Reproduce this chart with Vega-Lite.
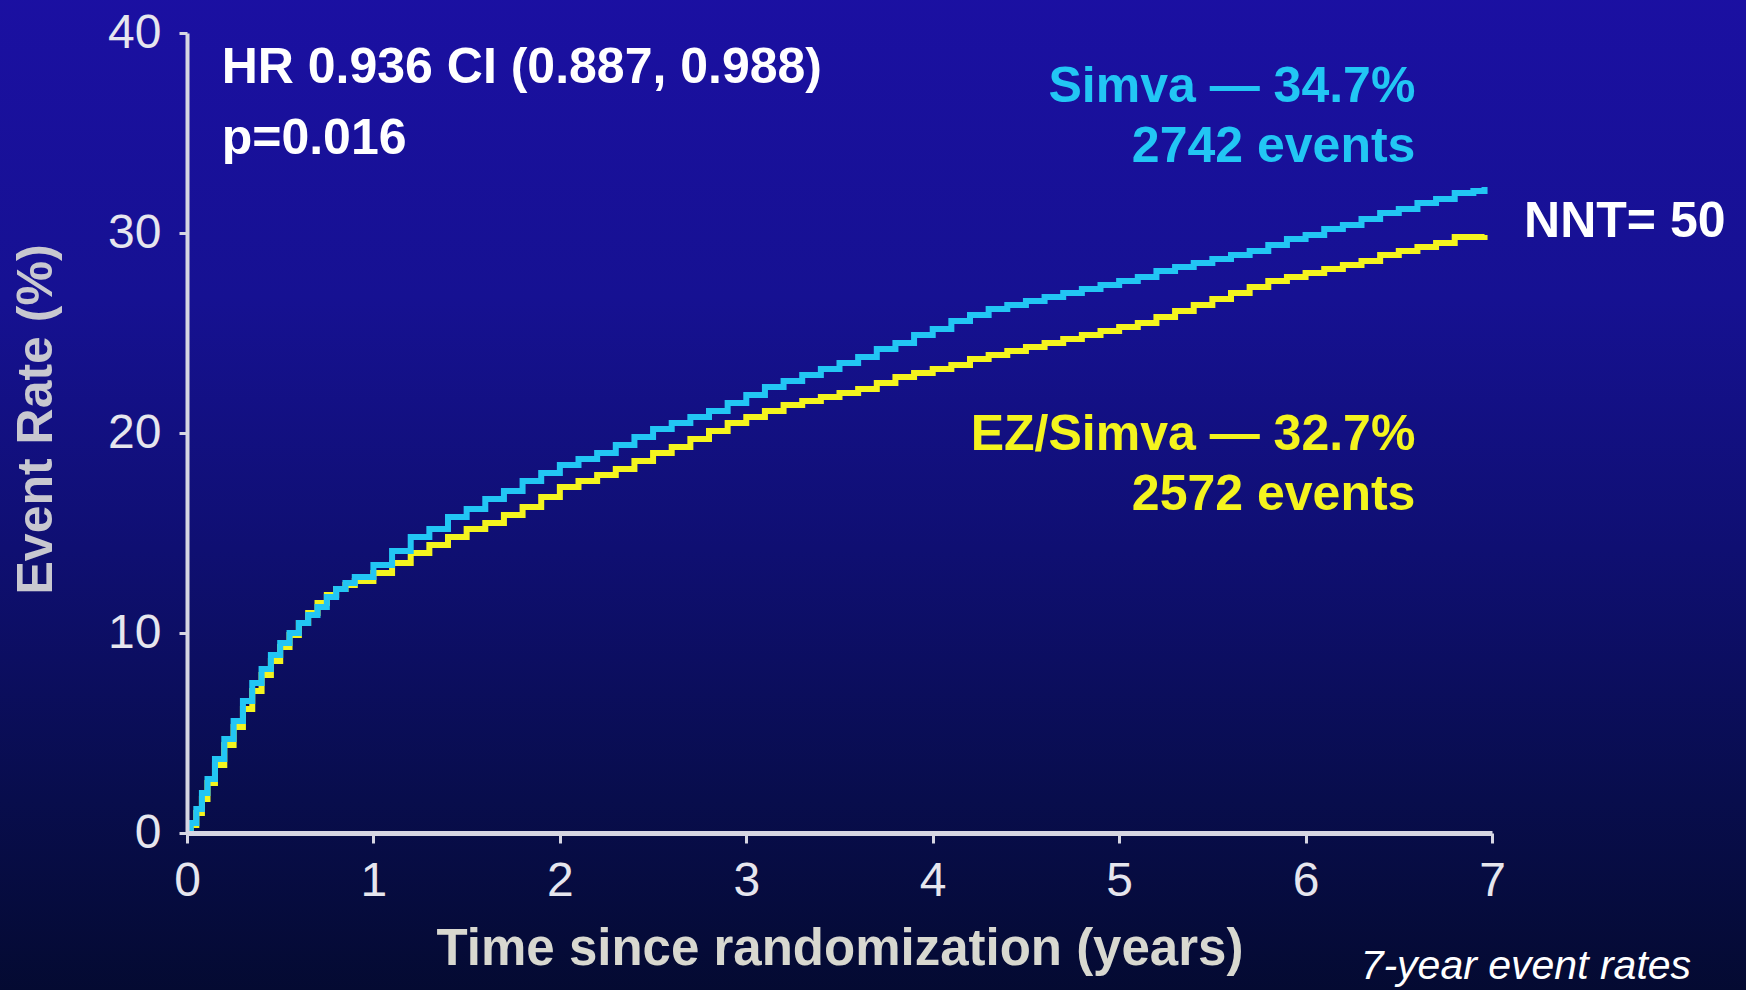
{
  "$schema": "https://vega.github.io/schema/vega-lite/v6.json",
  "width": 1305,
  "height": 800,
  "autosize": {"type": "none"},
  "padding": {"left": 187, "top": 33, "right": 254, "bottom": 157},
  "background": "#0d0e5c",
  "config": {
    "view": {"stroke": null},
    "font": "Liberation Sans",
    "text": {"font": "Liberation Sans", "fontWeight": "bold", "fontSize": 50}
  },
  "data": {"values": [{"note": "anchor"}]},
  "datasets": {
    "km": [
      {"arm": "Simva", "t": 0, "rate": 0},
      {"arm": "Simva", "t": 0.02, "rate": 0.5},
      {"arm": "Simva", "t": 0.05, "rate": 1.2},
      {"arm": "Simva", "t": 0.08, "rate": 2.0},
      {"arm": "Simva", "t": 0.11, "rate": 2.7},
      {"arm": "Simva", "t": 0.15, "rate": 3.7},
      {"arm": "Simva", "t": 0.2, "rate": 4.7},
      {"arm": "Simva", "t": 0.25, "rate": 5.6},
      {"arm": "Simva", "t": 0.3, "rate": 6.6},
      {"arm": "Simva", "t": 0.35, "rate": 7.5},
      {"arm": "Simva", "t": 0.4, "rate": 8.2},
      {"arm": "Simva", "t": 0.45, "rate": 8.9},
      {"arm": "Simva", "t": 0.5, "rate": 9.5},
      {"arm": "Simva", "t": 0.55, "rate": 10.0},
      {"arm": "Simva", "t": 0.6, "rate": 10.5},
      {"arm": "Simva", "t": 0.65, "rate": 10.9},
      {"arm": "Simva", "t": 0.7, "rate": 11.3},
      {"arm": "Simva", "t": 0.75, "rate": 11.8},
      {"arm": "Simva", "t": 0.8, "rate": 12.2},
      {"arm": "Simva", "t": 0.85, "rate": 12.5},
      {"arm": "Simva", "t": 0.9, "rate": 12.8},
      {"arm": "Simva", "t": 1.0, "rate": 13.4},
      {"arm": "Simva", "t": 1.1, "rate": 14.1},
      {"arm": "Simva", "t": 1.2, "rate": 14.8},
      {"arm": "Simva", "t": 1.3, "rate": 15.2},
      {"arm": "Simva", "t": 1.4, "rate": 15.8},
      {"arm": "Simva", "t": 1.5, "rate": 16.2},
      {"arm": "Simva", "t": 1.6, "rate": 16.7},
      {"arm": "Simva", "t": 1.7, "rate": 17.1},
      {"arm": "Simva", "t": 1.8, "rate": 17.6},
      {"arm": "Simva", "t": 1.9, "rate": 18.0},
      {"arm": "Simva", "t": 2.0, "rate": 18.4},
      {"arm": "Simva", "t": 2.1, "rate": 18.7},
      {"arm": "Simva", "t": 2.2, "rate": 19.0},
      {"arm": "Simva", "t": 2.3, "rate": 19.4},
      {"arm": "Simva", "t": 2.4, "rate": 19.8},
      {"arm": "Simva", "t": 2.5, "rate": 20.2},
      {"arm": "Simva", "t": 2.6, "rate": 20.5},
      {"arm": "Simva", "t": 2.7, "rate": 20.8},
      {"arm": "Simva", "t": 2.8, "rate": 21.1},
      {"arm": "Simva", "t": 2.9, "rate": 21.5},
      {"arm": "Simva", "t": 3.0, "rate": 21.9},
      {"arm": "Simva", "t": 3.1, "rate": 22.3},
      {"arm": "Simva", "t": 3.2, "rate": 22.6},
      {"arm": "Simva", "t": 3.3, "rate": 22.9},
      {"arm": "Simva", "t": 3.4, "rate": 23.2},
      {"arm": "Simva", "t": 3.5, "rate": 23.5},
      {"arm": "Simva", "t": 3.6, "rate": 23.8},
      {"arm": "Simva", "t": 3.7, "rate": 24.2},
      {"arm": "Simva", "t": 3.8, "rate": 24.5},
      {"arm": "Simva", "t": 3.9, "rate": 24.9},
      {"arm": "Simva", "t": 4.0, "rate": 25.2},
      {"arm": "Simva", "t": 4.1, "rate": 25.6},
      {"arm": "Simva", "t": 4.2, "rate": 25.9},
      {"arm": "Simva", "t": 4.3, "rate": 26.2},
      {"arm": "Simva", "t": 4.4, "rate": 26.4},
      {"arm": "Simva", "t": 4.5, "rate": 26.6},
      {"arm": "Simva", "t": 4.6, "rate": 26.8},
      {"arm": "Simva", "t": 4.7, "rate": 27.0},
      {"arm": "Simva", "t": 4.8, "rate": 27.2},
      {"arm": "Simva", "t": 4.9, "rate": 27.4},
      {"arm": "Simva", "t": 5.0, "rate": 27.6},
      {"arm": "Simva", "t": 5.1, "rate": 27.8},
      {"arm": "Simva", "t": 5.2, "rate": 28.1},
      {"arm": "Simva", "t": 5.3, "rate": 28.3},
      {"arm": "Simva", "t": 5.4, "rate": 28.5},
      {"arm": "Simva", "t": 5.5, "rate": 28.7},
      {"arm": "Simva", "t": 5.6, "rate": 28.9},
      {"arm": "Simva", "t": 5.7, "rate": 29.1},
      {"arm": "Simva", "t": 5.8, "rate": 29.4},
      {"arm": "Simva", "t": 5.9, "rate": 29.7},
      {"arm": "Simva", "t": 6.0, "rate": 29.9},
      {"arm": "Simva", "t": 6.1, "rate": 30.2},
      {"arm": "Simva", "t": 6.2, "rate": 30.4},
      {"arm": "Simva", "t": 6.3, "rate": 30.7},
      {"arm": "Simva", "t": 6.4, "rate": 31.0},
      {"arm": "Simva", "t": 6.5, "rate": 31.2},
      {"arm": "Simva", "t": 6.6, "rate": 31.5},
      {"arm": "Simva", "t": 6.7, "rate": 31.7},
      {"arm": "Simva", "t": 6.8, "rate": 32.0},
      {"arm": "Simva", "t": 6.9, "rate": 32.1},
      {"arm": "Simva", "t": 6.96, "rate": 32.3},
      {"arm": "EZ/Simva", "t": 0, "rate": 0},
      {"arm": "EZ/Simva", "t": 0.02, "rate": 0.4},
      {"arm": "EZ/Simva", "t": 0.05, "rate": 1.0},
      {"arm": "EZ/Simva", "t": 0.08, "rate": 1.7},
      {"arm": "EZ/Simva", "t": 0.11, "rate": 2.5},
      {"arm": "EZ/Simva", "t": 0.15, "rate": 3.4},
      {"arm": "EZ/Simva", "t": 0.2, "rate": 4.4},
      {"arm": "EZ/Simva", "t": 0.25, "rate": 5.3},
      {"arm": "EZ/Simva", "t": 0.3, "rate": 6.2},
      {"arm": "EZ/Simva", "t": 0.35, "rate": 7.1},
      {"arm": "EZ/Simva", "t": 0.4, "rate": 7.9},
      {"arm": "EZ/Simva", "t": 0.45, "rate": 8.6},
      {"arm": "EZ/Simva", "t": 0.5, "rate": 9.3},
      {"arm": "EZ/Simva", "t": 0.55, "rate": 9.9},
      {"arm": "EZ/Simva", "t": 0.6, "rate": 10.5},
      {"arm": "EZ/Simva", "t": 0.65, "rate": 11.0},
      {"arm": "EZ/Simva", "t": 0.7, "rate": 11.5},
      {"arm": "EZ/Simva", "t": 0.75, "rate": 11.9},
      {"arm": "EZ/Simva", "t": 0.8, "rate": 12.2},
      {"arm": "EZ/Simva", "t": 0.85, "rate": 12.4},
      {"arm": "EZ/Simva", "t": 0.9, "rate": 12.6},
      {"arm": "EZ/Simva", "t": 1.0, "rate": 13.0},
      {"arm": "EZ/Simva", "t": 1.1, "rate": 13.5},
      {"arm": "EZ/Simva", "t": 1.2, "rate": 14.0},
      {"arm": "EZ/Simva", "t": 1.3, "rate": 14.4},
      {"arm": "EZ/Simva", "t": 1.4, "rate": 14.8},
      {"arm": "EZ/Simva", "t": 1.5, "rate": 15.2},
      {"arm": "EZ/Simva", "t": 1.6, "rate": 15.5},
      {"arm": "EZ/Simva", "t": 1.7, "rate": 15.9},
      {"arm": "EZ/Simva", "t": 1.8, "rate": 16.3},
      {"arm": "EZ/Simva", "t": 1.9, "rate": 16.8},
      {"arm": "EZ/Simva", "t": 2.0, "rate": 17.3},
      {"arm": "EZ/Simva", "t": 2.1, "rate": 17.6},
      {"arm": "EZ/Simva", "t": 2.2, "rate": 17.9},
      {"arm": "EZ/Simva", "t": 2.3, "rate": 18.2},
      {"arm": "EZ/Simva", "t": 2.4, "rate": 18.6},
      {"arm": "EZ/Simva", "t": 2.5, "rate": 19.0},
      {"arm": "EZ/Simva", "t": 2.6, "rate": 19.3},
      {"arm": "EZ/Simva", "t": 2.7, "rate": 19.7},
      {"arm": "EZ/Simva", "t": 2.8, "rate": 20.1},
      {"arm": "EZ/Simva", "t": 2.9, "rate": 20.5},
      {"arm": "EZ/Simva", "t": 3.0, "rate": 20.8},
      {"arm": "EZ/Simva", "t": 3.1, "rate": 21.1},
      {"arm": "EZ/Simva", "t": 3.2, "rate": 21.4},
      {"arm": "EZ/Simva", "t": 3.3, "rate": 21.6},
      {"arm": "EZ/Simva", "t": 3.4, "rate": 21.8},
      {"arm": "EZ/Simva", "t": 3.5, "rate": 22.0},
      {"arm": "EZ/Simva", "t": 3.6, "rate": 22.2},
      {"arm": "EZ/Simva", "t": 3.7, "rate": 22.5},
      {"arm": "EZ/Simva", "t": 3.8, "rate": 22.8},
      {"arm": "EZ/Simva", "t": 3.9, "rate": 23.0},
      {"arm": "EZ/Simva", "t": 4.0, "rate": 23.2},
      {"arm": "EZ/Simva", "t": 4.1, "rate": 23.4},
      {"arm": "EZ/Simva", "t": 4.2, "rate": 23.7},
      {"arm": "EZ/Simva", "t": 4.3, "rate": 23.9},
      {"arm": "EZ/Simva", "t": 4.4, "rate": 24.1},
      {"arm": "EZ/Simva", "t": 4.5, "rate": 24.3},
      {"arm": "EZ/Simva", "t": 4.6, "rate": 24.5},
      {"arm": "EZ/Simva", "t": 4.7, "rate": 24.7},
      {"arm": "EZ/Simva", "t": 4.8, "rate": 24.9},
      {"arm": "EZ/Simva", "t": 4.9, "rate": 25.1},
      {"arm": "EZ/Simva", "t": 5.0, "rate": 25.3},
      {"arm": "EZ/Simva", "t": 5.1, "rate": 25.5},
      {"arm": "EZ/Simva", "t": 5.2, "rate": 25.8},
      {"arm": "EZ/Simva", "t": 5.3, "rate": 26.1},
      {"arm": "EZ/Simva", "t": 5.4, "rate": 26.4},
      {"arm": "EZ/Simva", "t": 5.5, "rate": 26.7},
      {"arm": "EZ/Simva", "t": 5.6, "rate": 27.0},
      {"arm": "EZ/Simva", "t": 5.7, "rate": 27.3},
      {"arm": "EZ/Simva", "t": 5.8, "rate": 27.6},
      {"arm": "EZ/Simva", "t": 5.9, "rate": 27.8},
      {"arm": "EZ/Simva", "t": 6.0, "rate": 28.0},
      {"arm": "EZ/Simva", "t": 6.1, "rate": 28.2},
      {"arm": "EZ/Simva", "t": 6.2, "rate": 28.4},
      {"arm": "EZ/Simva", "t": 6.3, "rate": 28.6},
      {"arm": "EZ/Simva", "t": 6.4, "rate": 28.9},
      {"arm": "EZ/Simva", "t": 6.5, "rate": 29.1},
      {"arm": "EZ/Simva", "t": 6.6, "rate": 29.3},
      {"arm": "EZ/Simva", "t": 6.7, "rate": 29.5},
      {"arm": "EZ/Simva", "t": 6.8, "rate": 29.8},
      {"arm": "EZ/Simva", "t": 6.9, "rate": 29.8},
      {"arm": "EZ/Simva", "t": 6.96, "rate": 29.9}
    ]
  },

  "layer": [
    {
      "mark": {
        "type": "rect",
        "clip": false,
        "color": {
          "gradient": "linear",
          "x1": 0, "y1": 0, "x2": 0, "y2": 1,
          "stops": [
            {"offset": 0, "color": "#1b10a2"},
            {"offset": 0.3, "color": "#161192"},
            {"offset": 0.55, "color": "#0f0f72"},
            {"offset": 0.8, "color": "#080d4c"},
            {"offset": 1, "color": "#040a30"}
          ]
        }
      },
      "encoding": {
        "x": {"datum": -1.1, "type": "quantitative"},
        "x2": {"datum": 8.5},
        "y": {"datum": 42, "type": "quantitative"},
        "y2": {"datum": -8.5}
      }
    },
    {
      "data": {"name": "km"},
      "transform": [{"filter": "datum.arm == 'EZ/Simva'"}],
      "mark": {"type": "line", "interpolate": "step-after", "strokeWidth": 6, "color": "#f4f41e"},
      "encoding": {
        "x": {"field": "t", "type": "quantitative",
          "scale": {"domain": [0, 7], "nice": false, "zero": false},
          "axis": {
            "title": "Time since randomization (years)",
            "values": [0, 1, 2, 3, 4, 5, 6, 7],
            "format": "d",
            "grid": false, "zindex": 1,
            "domainColor": "#d6d6e2", "domainWidth": 5,
            "tickColor": "#d6d6e2", "tickWidth": 3, "tickSize": 10,
            "labelColor": "#e6e6ee", "labelFontSize": 48, "labelFont": "Liberation Sans",
            "labelPadding": 14, "labelFlush": false,
            "titleColor": "#d8d8d0", "titleFontSize": 51, "titleFontWeight": "bold",
            "titleFont": "Liberation Sans", "titlePadding": 19
          }
        },
        "y": {"field": "rate", "type": "quantitative",
          "scale": {"domain": [0, 40], "nice": false},
          "axis": {
            "title": "Event Rate (%)",
            "values": [0, 10, 20, 30, 40],
            "grid": false, "zindex": 1,
            "domainColor": "#d6d6e2", "domainWidth": 4,
            "tickColor": "#d6d6e2", "tickWidth": 3, "tickSize": 8,
            "labelColor": "#e6e6ee", "labelFontSize": 48, "labelFont": "Liberation Sans",
            "labelPadding": 18,
            "titleColor": "#c8c8d0", "titleFontSize": 50, "titleFontWeight": "bold",
            "titleFont": "Liberation Sans", "titlePadding": 46, "titleY": 386
          }
        }
      }
    },
    {
      "data": {"name": "km"},
      "transform": [{"filter": "datum.arm == 'Simva'"}],
      "mark": {"type": "line", "interpolate": "step-after", "strokeWidth": 6, "color": "#22c6f4"},
      "encoding": {
        "x": {"field": "t", "type": "quantitative"},
        "y": {"field": "rate", "type": "quantitative"}
      }
    },
    {
      "mark": {"type": "text", "text": "HR 0.936 CI (0.887, 0.988)", "align": "left", "baseline": "alphabetic", "color": "#ffffff"},
      "encoding": {
        "x": {"datum": 0.186, "type": "quantitative"},
        "y": {"datum": 37.5, "type": "quantitative"}
      }
    },
    {
      "mark": {"type": "text", "text": "p=0.016", "align": "left", "baseline": "alphabetic", "color": "#ffffff"},
      "encoding": {
        "x": {"datum": 0.186, "type": "quantitative"},
        "y": {"datum": 33.95, "type": "quantitative"}
      }
    },
    {
      "mark": {"type": "text", "text": ["Simva — 34.7%", "2742 events"], "lineHeight": 60, "align": "right", "baseline": "alphabetic", "color": "#22c6f4"},
      "encoding": {
        "x": {"datum": 6.589, "type": "quantitative"},
        "y": {"datum": 36.55, "type": "quantitative"}
      }
    },
    {
      "mark": {"type": "text", "text": ["EZ/Simva — 32.7%", "2572 events"], "lineHeight": 60, "align": "right", "baseline": "alphabetic", "color": "#f4f41e"},
      "encoding": {
        "x": {"datum": 6.589, "type": "quantitative"},
        "y": {"datum": 19.15, "type": "quantitative"}
      }
    },
    {
      "mark": {"type": "text", "text": "NNT= 50", "align": "left", "baseline": "alphabetic", "color": "#ffffff"},
      "encoding": {
        "x": {"datum": 7.172, "type": "quantitative"},
        "y": {"datum": 29.8, "type": "quantitative"}
      }
    },
    {
      "mark": {"type": "text", "text": "7-year event rates", "align": "right", "baseline": "alphabetic", "color": "#ffffff", "fontSize": 41, "fontWeight": "normal", "fontStyle": "italic"},
      "encoding": {
        "x": {"datum": 8.068, "type": "quantitative"},
        "y": {"datum": -7.3, "type": "quantitative"}
      }
    }
  ]
}
